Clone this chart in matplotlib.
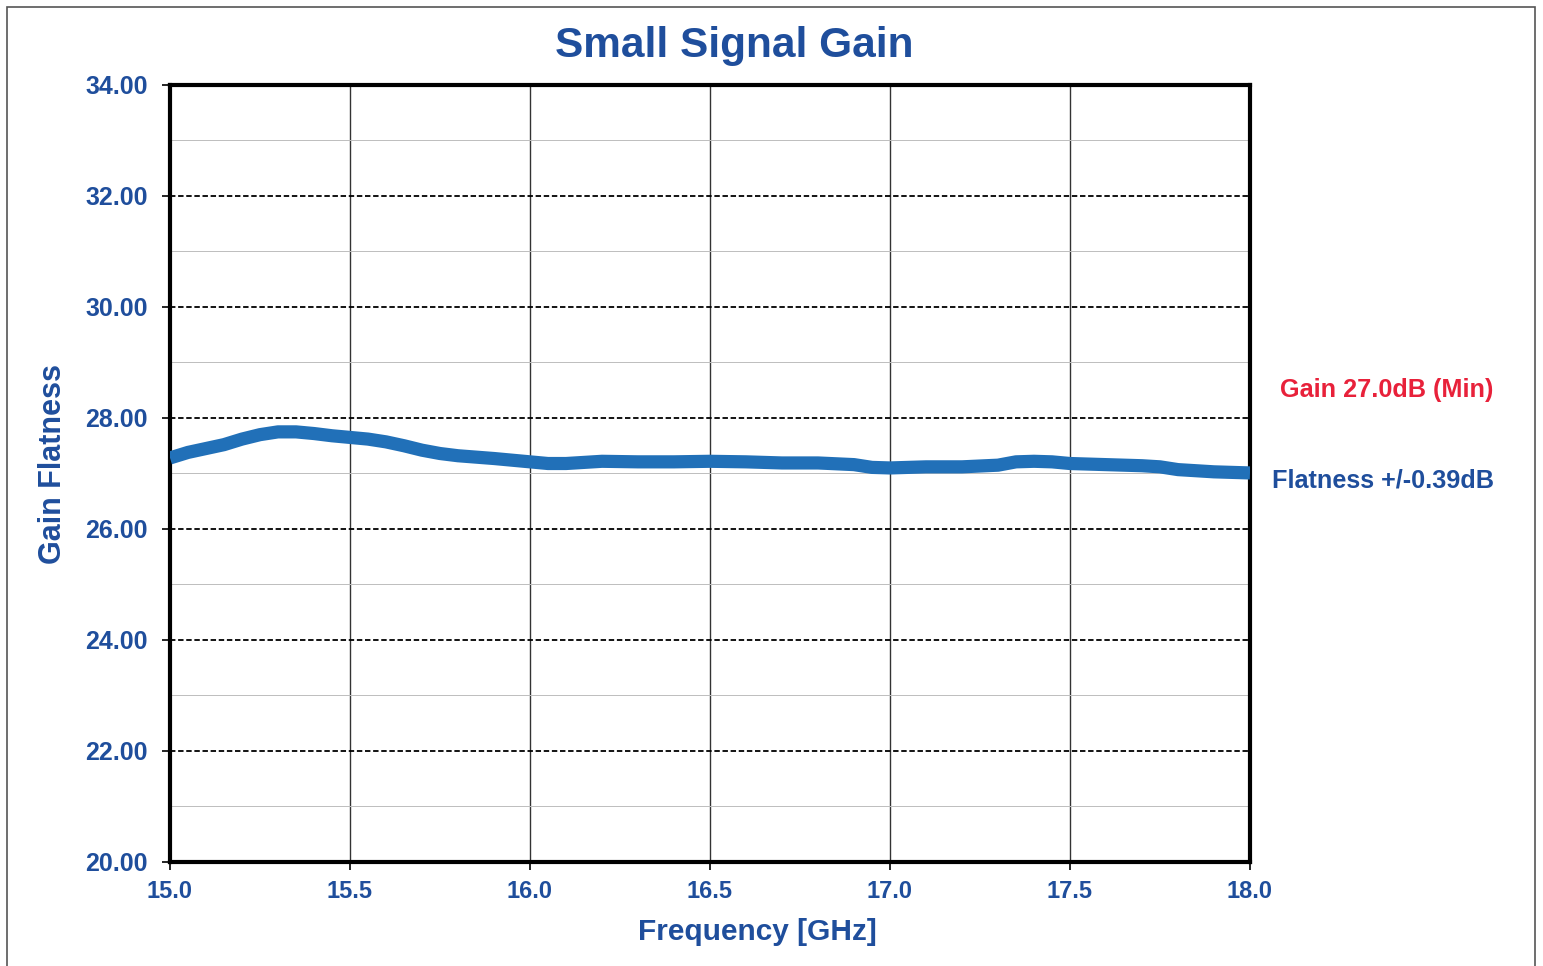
import matplotlib
matplotlib.use("Agg")
import matplotlib.pyplot as plt
from matplotlib.patches import Rectangle

freq_ghz = [15.0, 15.05, 15.1, 15.15, 15.2, 15.25, 15.3, 15.35, 15.4, 15.45, 15.5,
            15.55, 15.6, 15.65, 15.7, 15.75, 15.8, 15.9, 16.0, 16.05, 16.1, 16.2,
            16.3, 16.4, 16.5, 16.6, 16.7, 16.8, 16.9, 16.95, 17.0, 17.1, 17.2, 17.3,
            17.35, 17.4, 17.45, 17.5, 17.6, 17.7, 17.75, 17.8, 17.9, 18.0]
gain_db = [27.28, 27.38, 27.45, 27.52, 27.62, 27.70, 27.75, 27.75, 27.72, 27.68, 27.65,
           27.62, 27.57, 27.50, 27.42, 27.36, 27.32, 27.27, 27.21, 27.18, 27.18, 27.22,
           27.21, 27.21, 27.22, 27.21, 27.19, 27.19, 27.16, 27.11, 27.10, 27.12, 27.12, 27.15,
           27.21, 27.22, 27.21, 27.18, 27.16, 27.14, 27.12, 27.07, 27.03, 27.01]

x_ticks = [15.0, 15.5, 16.0, 16.5, 17.0, 17.5, 18.0]
y_ticks = [20, 22, 24, 26, 28, 30, 32, 34]
y_minor = [21, 23, 25, 27, 29, 31, 33]

title = "Small Signal Gain"
x_label = "Frequency [GHz]"
y_label = "Gain Flatness"
note_gain = "Gain 27.0dB (Min)"
note_flat = "Flatness +/-0.39dB"

txt_blue = "#1F4E9C"
line_blue = "#2170B8"
red = "#E8213A"
font = "Liberation Sans"

fig = plt.figure(figsize=(15.43, 9.66), dpi=100)
fig.patches.append(Rectangle((7 / 1543, -0.05), (1535 - 7) / 1543, 1 - 7 / 966 + 0.05,
                             transform=fig.transFigure, fill=False,
                             edgecolor="#555555", linewidth=1.2, zorder=0))

ax = fig.add_axes([170 / 1543, 1 - 862 / 966, (1250 - 170) / 1543, (862 - 85) / 966])
ax.set_xlim(15.0, 18.0)
ax.set_ylim(20, 34)

for v in x_ticks[1:-1]:
    ax.axvline(v, color="#333333", linewidth=1.0, zorder=1)
for v in y_ticks[1:-1]:
    ax.axhline(v, color="black", linewidth=1.3, linestyle=(0, (3, 1.5)), zorder=1)
for v in y_minor:
    ax.axhline(v, color="#BDBDBD", linewidth=0.7, zorder=1)

ax.plot(freq_ghz, gain_db, color=line_blue, linewidth=9.5, solid_capstyle="butt", zorder=3)

ax.set_xticks(x_ticks)
ax.set_xticklabels([f"{v:.1f}" for v in x_ticks], fontsize=17, fontweight="bold",
                   color=txt_blue, family=font)
ax.set_yticks(y_ticks)
ax.set_yticklabels([f"{v:.2f}" for v in y_ticks], fontsize=18, fontweight="bold",
                   color=txt_blue, family=font)
ax.tick_params(axis="both", direction="out", length=6, width=1.2, color="black")
ax.tick_params(axis="y", pad=10)
ax.tick_params(axis="x", pad=7)

for s in ax.spines.values():
    s.set_linewidth(3)
    s.set_color("black")

fig.text(757 / 1543, 1 - 932 / 966, x_label, ha="center", va="center", fontsize=21.5,
         fontweight="bold", color=txt_blue, family=font)
fig.text(53 / 1543, 1 - 464 / 966, y_label, ha="center", va="center", rotation=90,
         fontsize=22, fontweight="bold", color=txt_blue, family=font)

fig.text(734 / 1543, 1 - 46 / 966, title, ha="center", va="center", fontsize=30.5,
         fontweight="bold", color=txt_blue, family=font)
fig.text(1387 / 1543, 1 - 390 / 966, note_gain, ha="center", va="center", fontsize=18.2,
         fontweight="bold", color=red, family=font)
fig.text(1383 / 1543, 1 - 480 / 966, note_flat, ha="center", va="center", fontsize=18.2,
         fontweight="bold", color=txt_blue, family=font)

fig.savefig("out.png", dpi=100, facecolor="white")
